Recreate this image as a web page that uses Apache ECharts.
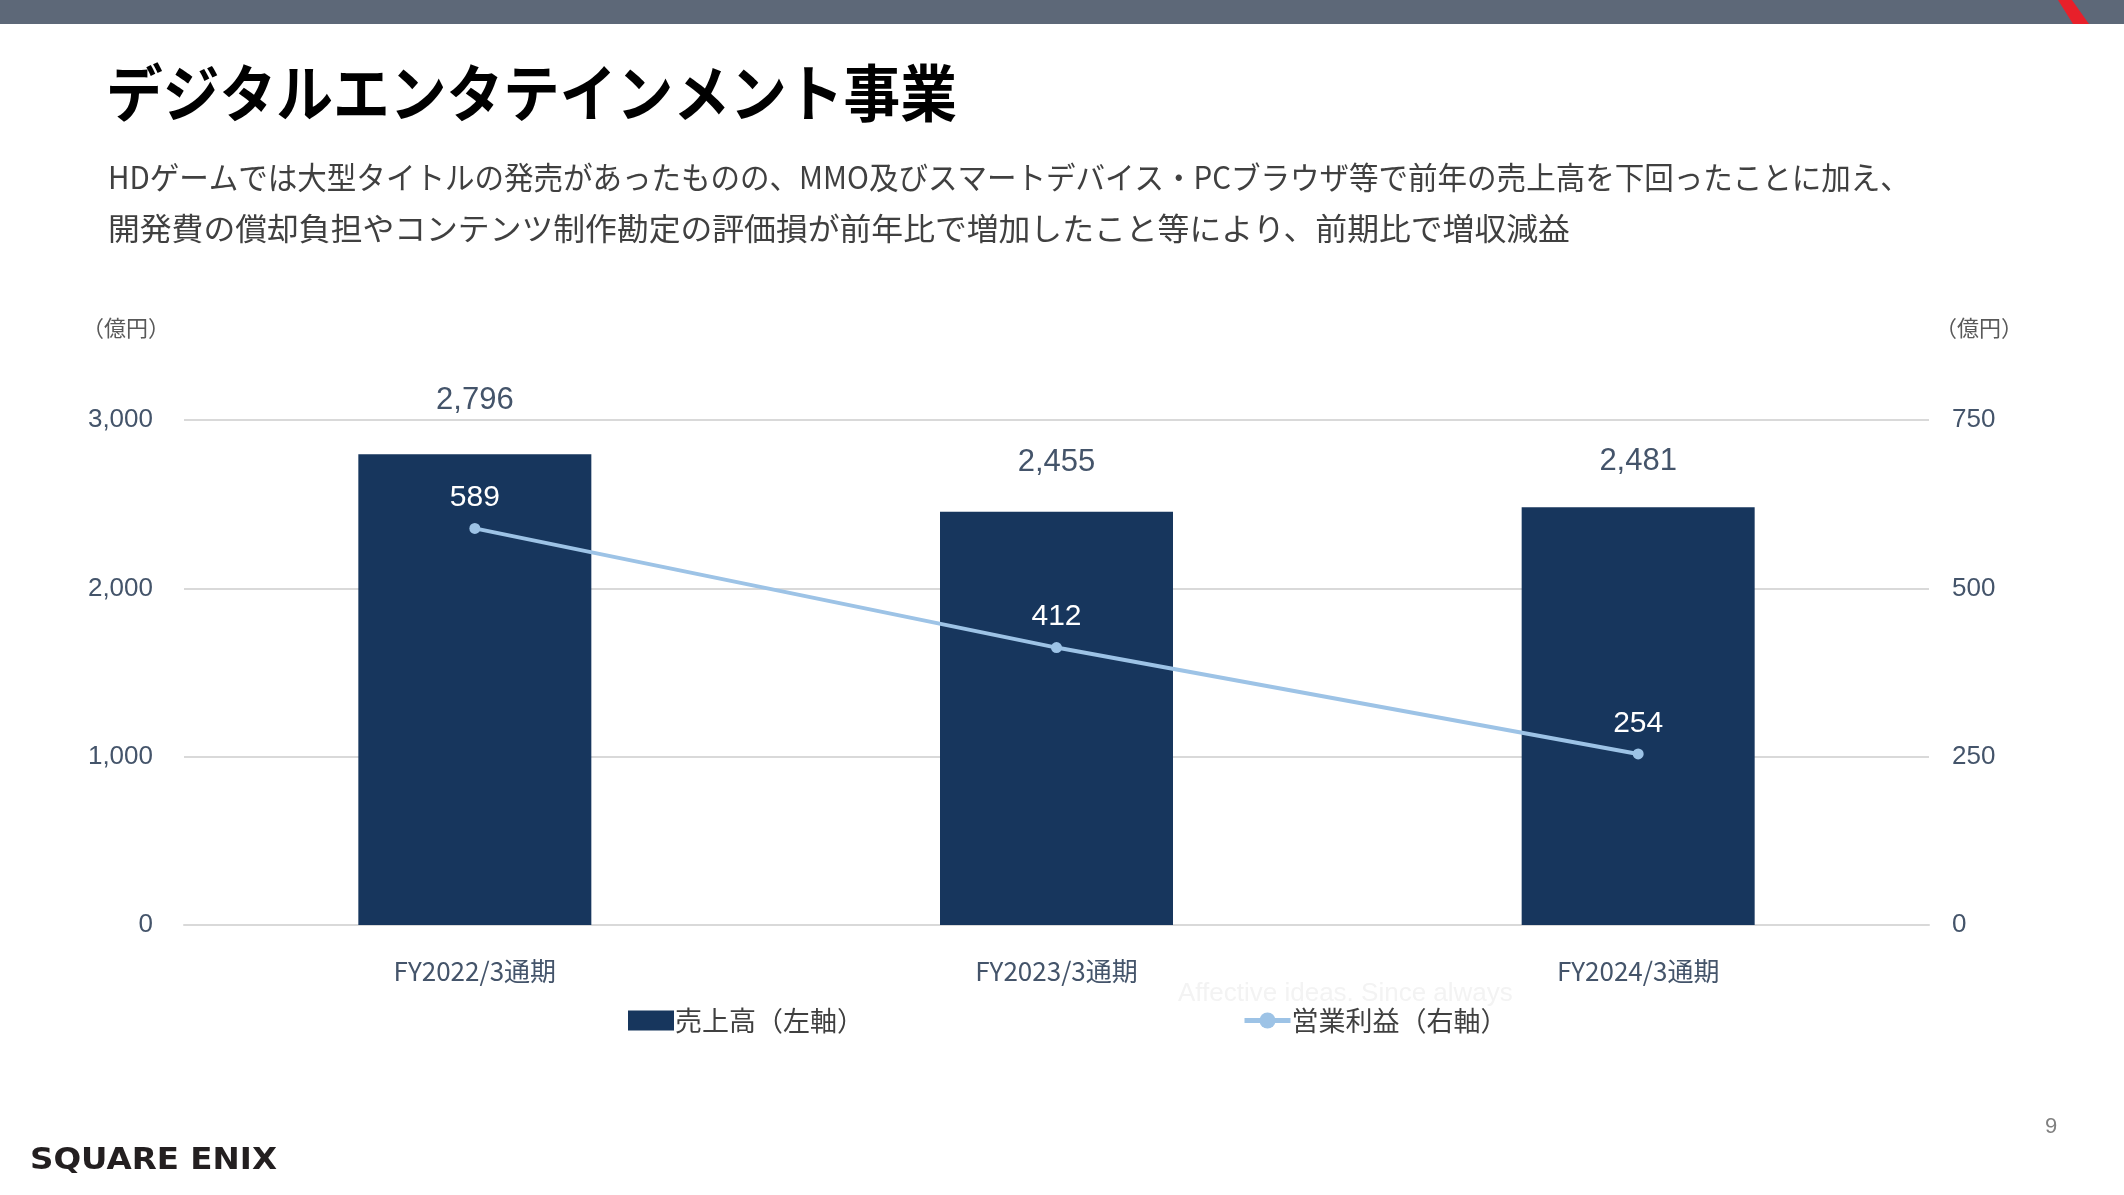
<!DOCTYPE html>
<html>
<head>
<meta charset="utf-8">
<script src="https://cdn.jsdelivr.net/npm/echarts@6/dist/echarts.min.js"></script>
<style>
html,body{margin:0;padding:0;background:#fff;}
#main{width:2124px;height:1195px;}
</style>
</head>
<body>
<div id="main"></div>
<script>
const categories = ['FY2022/3通期', 'FY2023/3通期', 'FY2024/3通期'];
const salesValues = [2796, 2455, 2481];
const profitValues = [589, 412, 254];
const leftTicks = [0, 1000, 2000, 3000];
const rightTicks = [0, 250, 500, 750];
const seriesNames = ['売上高（左軸）', '営業利益（右軸）'];
const titleText = 'デジタルエンタテインメント事業';
const subtitleLines = [
  'HDゲームでは大型タイトルの発売があったものの、MMO及びスマートデバイス・PCブラウザ等で前年の売上高を下回ったことに加え、',
  '開発費の償却負担やコンテンツ制作勘定の評価損が前年比で増加したこと等により、前期比で増収減益'
];
const unitLabel = '（億円）';

// label spacing above each bar (style, not data)
const barLabelGaps = [38, 34, 30];

const JP = '"Noto Sans CJK JP", "Noto Sans", sans-serif';
const NUM = '"Liberation Sans", Arial, sans-serif';
const axisColor = '#44546a';

const chart = echarts.init(document.getElementById('main'));
chart.setOption({
  backgroundColor: '#ffffff',
  animation: false,
  grid: { left: 184, right: 195, top: 420, bottom: 270, containLabel: false },
  legend: {
    bottom: 156,
    left: 623,
    itemGap: 378,
    itemWidth: 46,
    itemHeight: 20,
    textStyle: { fontFamily: JP, fontSize: 27, color: '#404040', padding: [0, 0, 0, -4] },
    data: [
      { name: seriesNames[0], icon: 'rect' },
      { name: seriesNames[1], lineStyle: { width: 5 } }
    ]
  },
  xAxis: {
    type: 'category',
    data: categories,
    axisLine: { show: true, lineStyle: { color: '#d9d9d9', width: 2 } },
    axisTick: { show: false },
    axisLabel: { fontFamily: JP, fontSize: 26, color: axisColor, margin: 33 }
  },
  yAxis: [
    {
      type: 'value', min: 0, max: 3000, interval: 1000,
      axisLine: { show: false }, axisTick: { show: false },
      splitLine: { lineStyle: { color: '#d9d9d9', width: 2 } },
      axisLabel: {
        fontFamily: NUM, fontSize: 26, color: axisColor, margin: 31,
        formatter: v => leftTicks.includes(v) ? v.toLocaleString('en-US') : ''
      }
    },
    {
      type: 'value', min: 0, max: 750, interval: 250,
      axisLine: { show: false }, axisTick: { show: false },
      splitLine: { show: false },
      axisLabel: {
        fontFamily: NUM, fontSize: 26, color: axisColor, margin: 23,
        formatter: v => rightTicks.includes(v) ? String(v) : ''
      }
    }
  ],
  series: [
    {
      name: seriesNames[0],
      type: 'bar',
      yAxisIndex: 0,
      data: salesValues.map((v, i) => ({ value: v, label: { distance: barLabelGaps[i] } })),
      barWidth: 233,
      itemStyle: { color: '#17365d' },
      label: {
        show: true, position: 'top', distance: 36,
        fontFamily: NUM, fontSize: 31, color: axisColor,
        formatter: p => p.value.toLocaleString('en-US')
      }
    },
    {
      name: seriesNames[1],
      type: 'line',
      yAxisIndex: 1,
      data: profitValues,
      symbol: 'circle',
      symbolSize: 11,
      lineStyle: { color: '#9dc3e6', width: 4 },
      itemStyle: { color: '#9dc3e6' },
      label: {
        show: true, position: 'top', distance: 10,
        fontFamily: NUM, fontSize: 30, color: '#ffffff'
      }
    }
  ],
  graphic: [
    { type: 'rect', left: 0, top: 0, shape: { width: 2124, height: 24 }, style: { fill: '#5d6878' }, silent: true },
    { type: 'polygon', shape: { points: [[2058, 0], [2072, 0], [2089, 24], [2073, 24]] }, style: { fill: '#e8202a' }, silent: true },
    { type: 'text', x: 106, y: 93, scaleX: 0.915, style: { text: titleText, fontFamily: JP, fontSize: 62, fontWeight: 'bold', fill: '#000000', align: 'left', verticalAlign: 'middle' } },
    { type: 'text', x: 108, y: 177, scaleX: 0.952, style: { text: subtitleLines[0], fontFamily: JP, fontSize: 31, fill: '#404040', align: 'left', verticalAlign: 'middle' } },
    { type: 'text', x: 108, y: 228, scaleX: 1.026, style: { text: subtitleLines[1], fontFamily: JP, fontSize: 31, fill: '#404040', align: 'left', verticalAlign: 'middle' } },
    { type: 'text', x: 82, y: 328, style: { text: unitLabel, fontFamily: JP, fontSize: 22, fill: '#595959', align: 'left', verticalAlign: 'middle' } },
    { type: 'text', x: 1935, y: 328, style: { text: unitLabel, fontFamily: JP, fontSize: 22, fill: '#595959', align: 'left', verticalAlign: 'middle' } },
    { type: 'text', x: 1178, y: 994, z: -1, style: { text: 'Affective ideas. Since always', fontFamily: NUM, fontSize: 26, fill: '#f3f3f3', align: 'left', verticalAlign: 'middle' } },
    { type: 'text', x: 30, y: 1161, scaleX: 1.085, style: { text: 'SQUARE ENIX', fontFamily: '"DejaVu Sans", sans-serif', fontSize: 30, fontWeight: 'bold', fill: '#231f20', align: 'left', verticalAlign: 'middle' } },
    { type: 'text', x: 2051, y: 1127, style: { text: '9', fontFamily: NUM, fontSize: 22, fill: '#808080', align: 'center', verticalAlign: 'middle' } }
  ]
});
</script>
</body>
</html>
